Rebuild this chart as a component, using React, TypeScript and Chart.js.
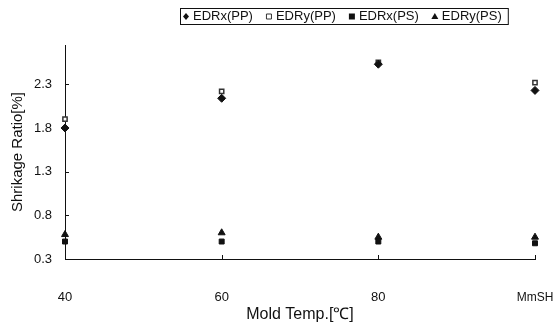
import React, { useEffect, useRef } from "react";
import { Chart, registerables } from "chart.js";
Chart.register(...registerables);

const categories = ["40", "60", "80", "MmSH"];
const edrxPP = [1.8, 2.14, 2.53, 2.23];
const edryPP = [1.9, 2.22, 2.55, 2.32];
const edrxPS = [0.5, 0.5, 0.5, 0.48];
const edryPS = [0.58, 0.6, 0.55, 0.55];
const yTicks = [0.3, 0.8, 1.3, 1.8, 2.3];
const seriesNames = ["EDRx(PP)", "EDRy(PP)", "EDRx(PS)", "EDRy(PS)"];

const FONT = "'Liberation Sans', Arial, sans-serif";

const innerTicks = {
  id: "innerTicks",
  afterDraw(chart: any) {
    const ctx = chart.ctx;
    const x = chart.scales.x;
    const y = chart.scales.y;
    const area = chart.chartArea;
    ctx.save();
    ctx.strokeStyle = "#111";
    ctx.lineWidth = 1;
    ctx.beginPath();
    yTicks.forEach((v) => {
      const py = Math.round(y.getPixelForValue(v)) + 0.5;
      ctx.moveTo(area.left, py);
      ctx.lineTo(area.left + 4, py);
    });
    categories.forEach((_, i) => {
      const px = Math.round(x.getPixelForValue(i)) + 0.5;
      ctx.moveTo(px, area.bottom);
      ctx.lineTo(px, area.bottom - 4);
    });
    ctx.stroke();
    ctx.restore();
  },
};

const boxLegend = {
  id: "boxLegend",
  afterDraw(chart: any) {
    const ctx = chart.ctx;
    ctx.save();
    ctx.font = `13px ${FONT}`;
    ctx.textBaseline = "middle";
    const cy = 16.5;
    let x = 186;
    const startX = 180;
    chart.data.datasets.forEach((ds: any, i: number) => {
      const style = ds.pointStyle;
      ctx.fillStyle = "#111";
      ctx.strokeStyle = "#333";
      ctx.lineWidth = 1;
      ctx.beginPath();
      if (style === "rectRot") {
        ctx.moveTo(x, cy - 3.5);
        ctx.lineTo(x + 3, cy);
        ctx.lineTo(x, cy + 3.5);
        ctx.lineTo(x - 3, cy);
        ctx.closePath();
        ctx.fill();
      } else if (style === "rect" && ds.pointBackgroundColor === "#ffffff") {
        ctx.rect(x - 2.5, cy - 2.5, 5, 5);
        ctx.stroke();
      } else if (style === "rect") {
        ctx.rect(x - 3, cy - 3, 6, 6);
        ctx.fill();
      } else {
        ctx.moveTo(x, cy - 3.5);
        ctx.lineTo(x + 3.5, cy + 2.5);
        ctx.lineTo(x - 3.5, cy + 2.5);
        ctx.closePath();
        ctx.fill();
      }
      ctx.fillStyle = "#111";
      const label = seriesNames[i];
      ctx.fillText(label, x + 7, cy);
      x += 7 + ctx.measureText(label).width + 16;
    });
    const endX = x - 10;
    ctx.strokeStyle = "#111";
    ctx.lineWidth = 1;
    ctx.strokeRect(startX + 0.5, 8.5, endX - startX, 16);
    ctx.restore();
  },
};

export default function App() {
  const ref = useRef<HTMLCanvasElement>(null);
  useEffect(() => {
    document.body.style.margin = "0";
    const chart = new Chart(ref.current as HTMLCanvasElement, {
      type: "line",
      data: {
        labels: categories,
        datasets: [
          {
            label: seriesNames[0],
            data: edrxPP,
            showLine: false,
            pointStyle: "rectRot",
            pointRadius: 4,
            pointBackgroundColor: "#111",
            pointBorderColor: "#111",
            borderColor: "#111",
          },
          {
            label: seriesNames[1],
            data: edryPP,
            showLine: false,
            pointStyle: "rect",
            pointRadius: 3,
            pointBackgroundColor: "#ffffff",
            pointBorderColor: "#333",
            pointBorderWidth: 1.5,
            borderColor: "#333",
          },
          {
            label: seriesNames[2],
            data: edrxPS,
            showLine: false,
            pointStyle: "rect",
            pointRadius: 3.5,
            pointBackgroundColor: "#111",
            pointBorderColor: "#111",
            borderColor: "#111",
          },
          {
            label: seriesNames[3],
            data: edryPS,
            showLine: false,
            pointStyle: "triangle",
            pointRadius: 4,
            pointBackgroundColor: "#111",
            pointBorderColor: "#111",
            borderColor: "#111",
          },
        ],
      },
      options: {
        animation: false,
        responsive: false,
        maintainAspectRatio: false,
        layout: { padding: { top: 45, right: 18, left: 0, bottom: 0 } },
        plugins: { legend: { display: false }, tooltip: { enabled: false } },
        scales: {
          x: {
            type: "category",
            offset: false,
            grid: { display: true, drawOnChartArea: false, drawTicks: false },
            border: { display: true, color: "#111", width: 1 },
            ticks: {
              padding: 31,
              color: "#111",
              font: (c: any) => ({ family: FONT, size: c.index === categories.length - 1 ? 12 : 13 }),
              maxRotation: 0,
              autoSkip: false,
            },
            title: {
              display: true,
              text: "Mold Temp.[℃]",
              color: "#111",
              font: { family: FONT, size: 16 },
              padding: { top: 0, bottom: 0 },
            },
            afterFit(scale: any) {
              scale.height = 65;
              scale.paddingLeft = 0;
              scale.paddingRight = 0;
            },
          },
          y: {
            min: 0.3,
            max: 2.75,
            afterBuildTicks(scale: any) {
              scale.ticks = yTicks.map((v) => ({ value: v }));
            },
            grid: { display: true, drawOnChartArea: false, drawTicks: false },
            border: { display: true, color: "#111", width: 1 },
            ticks: {
              padding: 13,
              color: "#111",
              font: { family: FONT, size: 13 },
              callback: (v: any) => Number(v).toFixed(1),
            },
            title: {
              display: true,
              text: "Shrikage Ratio[%]",
              color: "#111",
              font: { family: FONT, size: 15 },
              padding: { top: 9, bottom: 0 },
            },
            afterFit(scale: any) {
              scale.width = 65;
              scale.paddingTop = 0;
              scale.paddingBottom = 0;
            },
          },
        },
      },
      plugins: [innerTicks, boxLegend],
    } as any);
    return () => chart.destroy();
  }, []);
  return (
    <div style={{ position: "absolute", left: 0, top: 0, width: 553, height: 324 }}>
      <canvas ref={ref} width={553} height={324} style={{ width: 553, height: 324 }} />
    </div>
  );
}
